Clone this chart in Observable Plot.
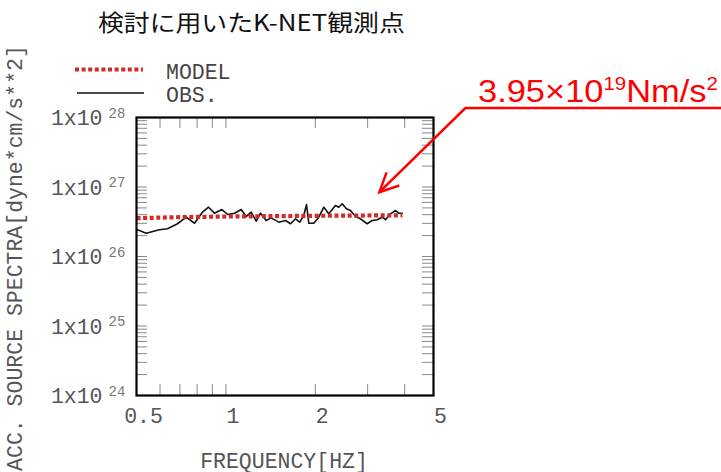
<!DOCTYPE html>
<html><head><meta charset="utf-8">
<script src="https://cdn.jsdelivr.net/npm/d3@7"></script>
<script src="https://cdn.jsdelivr.net/npm/@observablehq/plot@0.6"></script>
<style>body{margin:0;background:#fff}svg{display:block}</style>
</head><body><div id="chart"></div>
<script>
// ---- data ----
const titleText = "検討に用いたK-NET観測点";
const xLabel = "FREQUENCY[HZ]";
const yLabel = "ACC. SOURCE SPECTRA[dyne*cm/s**2]";
const seriesNames = ["MODEL", "OBS."];
const annotationText = ["3.95×10", "19", "Nm/s", "2"];
const annotationTarget = {freq: 3.3, value: 8.3e26};

const obsFreq = [0.504,0.539,0.597,0.636,0.687,0.735,0.784,0.834,0.874,0.915,0.969,1.015,1.069,1.126,1.170,1.216,1.265,1.308,1.367,1.419,1.507,1.588,1.650,1.715,1.773,1.829,1.868,1.902,1.977,2.055,2.136,2.220,2.339,2.399,2.463,2.547,2.627,2.731,2.838,2.990,3.109,3.232,3.360,3.447,3.583,3.724,3.821,3.924];
const obsValue = [2.42e26,2.16e26,2.42e26,2.51e26,2.96e26,3.68e26,3.01e26,4.34e26,5.12e26,4.20e26,4.74e26,4.02e26,4.20e26,4.74e26,3.76e26,4.34e26,3.22e26,4.20e26,3.30e26,3.60e26,3.12e26,3.30e26,2.96e26,3.49e26,3.12e26,3.89e26,5.60e26,3.01e26,3.01e26,3.68e26,5.12e26,4.11e26,5.42e26,5.12e26,5.73e26,4.85e26,4.59e26,3.76e26,3.49e26,2.96e26,3.30e26,3.38e26,3.68e26,3.38e26,4.11e26,4.59e26,4.20e26,4.20e26];

const modelFreq = [0.5, 0.7, 1, 2, 3, 3.93];
const modelValue = [3.56e26, 3.68e26, 3.76e26, 3.85e26, 3.89e26, 3.92e26];

const xTickLabels = [0.5, 1, 2, 5];
const xMinorTicks = [0.6, 0.7, 0.8, 0.9, 1, 2, 3, 4];
const yDecades = [1e24, 1e25, 1e26, 1e27, 1e28];
const yMantissas = [1, 2, 3, 4, 5, 6, 7, 8, 9];

// ---- derived tables ----
const obs = obsFreq.map((f, i) => ({f, v: obsValue[i]}));
const model = modelFreq.map((f, i) => ({f, v: modelValue[i]}));
const yMinorTicks = yDecades.slice(0, -1).flatMap(d => yMantissas.map(m => m * d));

const MONO = "Liberation Mono";
const GREY = "#555";
const RED_DOT = {stroke: "#d22a2a", strokeWidth: 4.2, strokeDasharray: "4,2.6", strokeLinecap: "butt"};

const W = 721, H = 472;
const FW = 297, FH = 278;

const legendMark = (index, scales, values, dims) => {
  const g = d3.create("svg:g");
  const rows = [
    {name: seriesNames[0], y: 69.5, x1: 75, x2: 143, style: RED_DOT},
    {name: seriesNames[1], y: 93, x1: 77, x2: 144, style: {stroke: "#111", strokeWidth: 1.6}}
  ];
  for (const r of rows) {
    g.append("line").attr("x1", r.x1).attr("x2", r.x2).attr("y1", r.y).attr("y2", r.y)
      .attr("stroke", r.style.stroke).attr("stroke-width", r.style.strokeWidth)
      .attr("stroke-dasharray", r.style.strokeDasharray || null);
    g.append("text").attr("x", 166).attr("y", r.y + 1.5).attr("dy", "0.35em")
      .attr("text-anchor", "start")
      .attr("font-family", MONO).attr("font-size", 21.5).attr("fill", "#444")
      .text(r.name);
  }
  return g.node();
};

const titleMark = (index, scales, values, dims) => {
  const g = d3.create("svg:g");
  g.append("text").attr("class", "title-text").attr("x", 0).attr("y", 0)
    .attr("text-anchor", "start")
    .attr("font-family", "Noto Sans CJK JP").attr("font-size", 22.5).attr("fill", "#111")
    .text(titleText);
  return g.node();
};

const annotationMark = (index, scales, values, dims) => {
  const g = d3.create("svg:g").attr("class", "annot");
  const tx = scales.x(annotationTarget.freq), ty = scales.y(annotationTarget.value);
  const ex = tx + 86, ey = ty - 84;
  g.append("path").attr("d", `M${dims.width},${ey}H${ex}L${tx},${ty}`)
    .attr("fill", "none").attr("stroke", "#f00").attr("stroke-width", 2.5);
  const ang = Math.atan2(ey - ty, ex - tx);
  const L = 21, spread = 0.45;
  const p1 = [tx + L * Math.cos(ang - spread), ty + L * Math.sin(ang - spread)];
  const p2 = [tx + L * Math.cos(ang + spread), ty + L * Math.sin(ang + spread)];
  g.append("path").attr("d", `M${p1}L${tx},${ty}L${p2}`)
    .attr("fill", "none").attr("stroke", "#f00").attr("stroke-width", 2.5);
  const t = g.append("text").attr("class", "annot-text").attr("x", 0).attr("y", 0)
    .attr("text-anchor", "start")
    .attr("font-family", "Liberation Sans, Arial, sans-serif").attr("fill", "#f00").attr("font-size", 32);
  t.append("tspan").text(annotationText[0]);
  t.append("tspan").attr("font-size", 19).attr("dy", -12).text(annotationText[1]);
  t.append("tspan").attr("dy", 12).text(annotationText[2]);
  t.append("tspan").attr("font-size", 19).attr("dy", -12).text(annotationText[3]);
  return g.node();
};

const plot = Plot.plot({
  width: W, height: H,
  marginLeft: 136, marginRight: W - 136 - FW, marginTop: 117, marginBottom: H - 117 - FH,
  x: {type: "log", domain: [0.5, 5], axis: null},
  y: {type: "log", domain: [1e24, 1e28], axis: null},
  style: {background: "#fff"},
  marks: [
    Plot.tickY(yMinorTicks, {y: d => d, insetRight: FW - 11, stroke: "#888", strokeWidth: 1}),
    Plot.tickY(yMinorTicks, {y: d => d, insetLeft: FW - 11, stroke: "#888", strokeWidth: 1}),
    Plot.tickX(xMinorTicks, {x: d => d, insetTop: FH - 11, stroke: "#888", strokeWidth: 1}),
    Plot.tickX(xMinorTicks, {x: d => d, insetBottom: FH - 11, stroke: "#888", strokeWidth: 1}),
    Plot.line(obs, {x: "f", y: "v", stroke: "#111", strokeWidth: 1.6}),
    Plot.line(model, {x: "f", y: "v", ...RED_DOT}),
    Plot.frame({stroke: "#000", strokeWidth: 2.2}),
    Plot.text(yDecades, {y: d => d, text: () => "1x10", frameAnchor: "left", textAnchor: "end", dx: -34, dy: 1,
      fontFamily: MONO, fontSize: 21.5, fill: GREY}),
    Plot.text(yDecades, {y: d => d, text: d => String(Math.round(Math.log10(d))), frameAnchor: "left", textAnchor: "start",
      dx: -28, dy: -4, fontFamily: MONO, fontSize: 14, fill: "#777"}),
    Plot.text(xTickLabels, {x: d => d, text: d => String(d), frameAnchor: "bottom", dx: 7, dy: 27,
      fontFamily: MONO, fontSize: 21.5, fill: GREY}),
    Plot.text([xLabel], {frameAnchor: "bottom", dx: 283.5 - (136 + FW / 2), dy: 72, fontFamily: MONO, fontSize: 21.5, fill: GREY}),
    Plot.text([yLabel], {frameAnchor: "left", textAnchor: "middle", rotate: -90, dx: 15 - 136, dy: 1.5, fontFamily: MONO, fontSize: 21.5, fill: GREY}),
    titleMark,
    legendMark,
    annotationMark
  ]
});

document.getElementById("chart").appendChild(plot);

// Fit stretched overlay texts (title and annotation) to their reference widths
function fitText(el, left, right, baseline) {
  const bb = el.getBBox();
  const sx = (right - left) / bb.width;
  el.setAttribute("transform", `translate(${left - bb.x * sx},${baseline}) scale(${sx},1)`);
}
const annot = plot.querySelector(".annot-text");
if (annot) fitText(annot, 478, 718, 101.5);
const titleEl = plot.querySelector(".title-text");
if (titleEl) fitText(titleEl, 98, 405, 30.5);
</script>
</body></html>
